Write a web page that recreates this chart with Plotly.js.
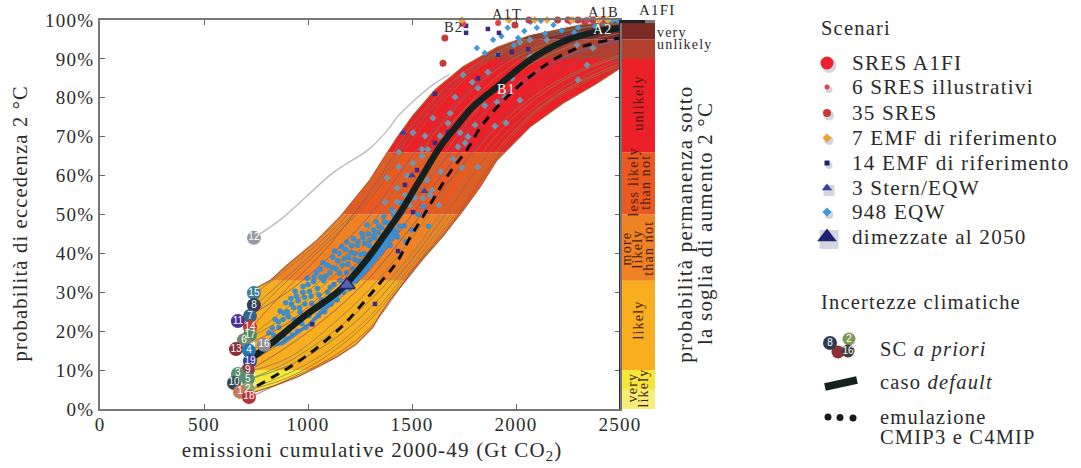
<!DOCTYPE html>
<html><head><meta charset="utf-8">
<script src="https://cdn.plot.ly/plotly-3.0.1.min.js"></script>
<style>html,body{margin:0;padding:0;background:#fff}
#chart text{letter-spacing:1.2px}
#chart .textpoint text{letter-spacing:0}
</style></head>
<body><div id="chart" style="width:1081px;height:468px"></div>
<script>
// ---------- data (x: Gt CO2, y: %) ----------
const upperX=[745,817,900,1043,1154,1298,1394,1428,1505,1610,1745,1909,2067,2308,2500];
const upperY=[31,33,37,43.4,49.4,58.9,67,69.8,75.5,82,88,93,96,98.7,99.8];
const lowerX=[745,850,947,1040,1139,1230,1312,1346,1394,1476,1553,1650,1745,1827,1909,2067,2226,2388,2500];
const lowerY=[4.4,6.2,8.2,10.6,13.4,16.6,21,24.2,28,33.5,38.6,44.5,51,57,64,72.5,78.6,83.7,87.6];

const gridX=[900,1100,1300,1500,1700,1900,2100,2300,2500];
const curveLabels=['15','8','7','11','14','17','6','13','4','16','19','9','3','5','10','2','1','18'];
const labelX=[740,740,721,663,721,721,692,654,716,788,721,711,663,711,644,711,673,716];
const labelY=[29.8,26.7,23.9,22.6,21,19,17.7,15.4,15,16.5,12.3,10,9,7.7,6.7,5.1,4.4,3.1];
const labelColors=['#3d7f9b','#313c58','#33648a','#4c2f8e','#c23a30','#4f8a62','#6f8c6c','#8b2e36','#2178b5','#8d8d99','#3a409f','#8e3b49','#5f906b','#5a8b72','#2f4b57','#8ba46c','#c77b5b','#b7333b'];
const curve15=[36,45,57,73,84.5,91.5,95.8,98,99.4];
const curve8=[34,44,55,71,83,91,95.3,97.8,99.2];
const curve7=[33,43,54,69,82,90.5,95,97.6,99];
const curve11=[30,39,50,65,78,88,93.8,96.8,98.6];
const curve14=[31,42,56,72,84,91,95,97,98.4];
const curve17=[26,35,47,63,77,87,93,96,98];
const curve6=[24,33,44,60,74,85,92,95.5,97.6];
const curve13=[22,31,41,56,71,83,90.5,95,97.3];
const curve4=[21,29,39,53,67,79,87,92,95];
const curve16=[21,30,40,54,69,82,89.5,94,96.6];
const curve19=[18,26,36,50,64,77,86,91.5,94.6];
const curve9=[16,24,34,47,60,73,83,89.5,93];
const curve3=[13,21,31,44,59,72,81,87,91];
const curve5=[12,19,28,40,55,70,80,86.5,90.5];
const curve10=[11,17,26,38.5,53,68,78,85,89.6];
const curve2=[9,15,24,37,51,66,77,84,88.8];
const curve1=[8,14,23,36,49.5,65,76.5,83.5,88.2];
const curve18=[7.5,12.8,21,35.5,48.5,64,76,83,88];
const curves=[curve15,curve8,curve7,curve11,curve14,curve17,curve6,curve13,curve4,curve16,curve19,curve9,curve3,curve5,curve10,curve2,curve1,curve18];
const curveColors=['#8a7a50','#7d6a6a','#8a6a40','#7a5a8a','#a05040','#7f7f50','#8a7a50','#8a5050','#6a6a9a','#8a7a70','#6a5a9a','#8a5060','#808050','#7a8a50','#6a7a60','#8a8a40','#a07040','#a05040'];

const cs12X=[740,875,1120,1298,1394,1428,1587,1680];
const cs12Y=[44,49,60.7,67,72.5,75,82.8,86];
const defaultX=[736,832,976,1154,1284,1361,1442,1538,1635,1731,1793,1909,2067,2226,2388,2500];
const defaultY=[13.4,17.2,23.6,30.6,38.5,44.2,50.4,58.9,67.4,73.8,77.7,82.8,89.7,94.4,97,97.9];
const emulX=[755,913,986,1072,1178,1264,1346,1428,1490,1548,1620,1683,1764,1827,1909,2034,2178,2308,2500];
const emulY=[5.9,10.8,13.4,17,22,27.2,32.4,37.8,44,49,55.5,60.9,66.6,72.2,77.6,84,89.7,93,95.4];

const blobX=[830,880,1024,1168,1264,1360,1442,1400,1300,1200,1100,1000,900];
const blobY=[16,16.4,22,29.8,34,40,46,47,41,34,28,22,18.5];
const eqwX=[820,835,850,860,875,880,895,900,910,920,925,935,945,950,960,970,975,985,990,1000,1005,1015,1020,1030,1035,1045,1050,1060,1065,1075,1080,1090,1095,1105,1110,1120,1125,1135,1140,1150,1155,1165,1170,1180,1185,1195,1200,1210,1215,1225,1230,1240,1245,1255,1265,1270,1280,1290,1295,1305,1315,1320,1330,1340,1350,1360,1370,1380,1395,1410,1420,1440,1500,1530,1555,1580,1470,1450];
const eqwY=[17,19,17,21,19,23,18,25,21,27,19,23,29,20,26,22,30,27,21,32,24,29,22,34,26,31,24,36,28,33,25,37,30,35,27,39,32,36,28,40,33,37,30,41,35,39,31,42,36,40,33,43,38,35,44,40,36,45,42,38,46,44,40,47,42,44,48,46,42,50,45,47,46,50,52,47,43,53];
const eqwMoreX=[812,828,842,858,866,884,893,907,918,931,938,953,962,976,983,996,1008,1018,1027,1041,1052,1063,1072,1086,1098,1107,1118,1127,1143,1152,1161,1173,1186,1192,1207,1218,1226,1238,1252,1258,1272,1283,1297,1303,1318,1327,1338,1352,1364,1376,1388,1402,1416,1431,1447,1462];
const eqwMoreY=[19.6,20.8,23.1,22.4,25.2,24.6,27.3,23.7,28.4,26.1,30.3,27.8,24.9,31.5,28.7,33.6,30.2,27.1,32.8,35.1,29.4,33.9,37.6,34.2,36.8,31.3,36.4,40.6,38.1,34.9,41.7,38.6,42.9,37.2,40.3,43.8,38.4,42.1,39.7,45.1,42.6,47.3,43.4,39.6,44.7,48.2,45.3,46.6,49.4,43.7,47.8,51.2,48.6,44.2,50.3,47.1];
const topEqwX=[1812,1890,1850,1930,2010,1960,2040,2100,2070,2140,2180,2220,2260,2300,2340,2380,2420,2460,2120,2200,2280,2360,1990,2440,2490];
const topEqwY=[92.8,94.9,91.5,95.8,95.4,98,97.2,98,99.5,96.5,98.7,97.3,99.5,98,99.6,98.4,99.3,99.8,99.8,100,96.8,100,93.5,97.5,99.9];
const dotsX=[1505,1437,1562,1673,1635,1731,1803,1899,1952,1769,1755,1721,1548,1575,1548,1505,1437,1476,1380,1572,1639,1740,1817,1697,1596,1428,1466,1428,1370,1514,1553,1587,1630,1490,1418,1707,1683,1601,1745,1817,1865,1909,1947,1981,2019,2298,2341,2293,2370,2067,2019,1914,2178,2067,2149,1790,1850];
const dotsY=[71,66,70.2,73.5,70.2,71,73,72.7,73.5,70,68.4,67.4,66.8,66.8,65,63.2,62.2,60,59.4,58.9,61,62,62.2,64.3,56.3,56.8,55,53.2,53.2,54.2,54.2,55,52.4,52.4,50.6,80.2,76,74.8,85.9,82.5,86.6,78.9,80.2,85,79.4,84.6,88.4,93.6,92.8,90.5,94.3,91,93,94.9,94.9,84,78];
const emf14X=[1760,1760,1865,1918,1914,1980,2058,1817,1610,1610,1673,1524,1466,1505,1019,1322,1433];
const emf14Y=[98.5,96.7,97.7,96.7,91,91.8,92.5,85,81,68.4,71.2,61.4,57.6,50.6,21.8,27,40.6];
const sres35X=[1658,1649,1995,2062,2250,2298,2370,2418,2200,2330];
const sres35Y=[95.4,88.9,98.7,100,100,100,100,100,100,99.6];
const sres6X=[1746,1914,2340,2270];
const sres6Y=[99,99.2,100,100];
const emf7X=[1740,1966,2149,2269,2442,2400,2090];
const emf7Y=[100,100,100,100,100,100,100];
const sternX=[1457,1500,1560];
const sternY=[71,60,56];
const halvedX=[1187];
const halvedY=[31.9];
const a1fiX=[2702];
const a1fiY=[100];

const bandEdges=[0,10,33,50,66,90,95,100];
const bandColors=['#f5e63c','#f9ae20','#ef8224','#ea5a20','#ed2028','#b2402c','#7c2a26'];
const yTicks=[0,10,20,30,40,50,60,70,80,90,100];
const xTicks=[0,500,1000,1500,2000,2500];
const scenarioNames=['SRES A1FI','6 SRES illustrativi','35 SRES','7 EMF di riferimento','14 EMF di riferimento','3 Stern/EQW','948 EQW','dimezzate al 2050'];
const scenarioColors=['#ee2030','#e8404a','#c93a3a','#f0a030','#23246e','#3a3f9a','#3a9ad8','#1c2472'];
const scenarioSymbols=['circle','circle','circle','diamond','square','triangle-up','diamond','triangle-up'];
const scenarioSizes=[13,5,8,7,5,9,7,17];
const scenarioRows=[63,87,113,138,163,188,212,237];
const stripText=['very','likely','likely','more','likely','than not','less likely','than not','unlikely'];

// ---------- construction ----------
const W=1081,H=468,L=100,R=620,T=20,B=409;
const FONT='"Liberation Serif",serif', INK='#2b2b2b';
const traces=[];

function clip(poly,yLim,keepAbove){
  const out=[];
  const inside=p=>keepAbove?p[1]>=yLim:p[1]<=yLim;
  for(let i=0;i<poly.length;i++){
    const a=poly[i],b=poly[(i+1)%poly.length];
    if(inside(a))out.push(a);
    if(inside(a)!==inside(b)){
      const t=(yLim-a[1])/(b[1]-a[1]);
      out.push([a[0]+t*(b[0]-a[0]),yLim]);
    }
  }
  return out;
}
const fan=upperX.map((x,i)=>[x,upperY[i]]).concat(lowerX.map((x,i)=>[x,lowerY[i]]).reverse());
bandColors.forEach((c,i)=>{
  const p=clip(clip(fan,bandEdges[i],true),bandEdges[i+1],false);
  if(!p.length)return;
  traces.push({x:p.map(q=>q[0]),y:p.map(q=>q[1]),mode:'lines',fill:'toself',fillcolor:c,line:{width:0},hoverinfo:'skip',showlegend:false});
});
traces.push({x:upperX,y:upperY,mode:'lines',line:{color:'#a5603a',width:1.2},showlegend:false,hoverinfo:'skip'});
traces.push({x:lowerX,y:lowerY,mode:'lines',line:{color:'#a5603a',width:1.2},showlegend:false,hoverinfo:'skip'});

function pts(x,y,color,symbol,size,extra){
  traces.push(Object.assign({x,y,mode:'markers',cliponaxis:false,marker:{color,symbol,size,line:{width:0}},showlegend:false,hoverinfo:'skip'},extra||{}));
}
traces.push({x:blobX,y:blobY,mode:'lines',fill:'toself',fillcolor:'#3a8ed2',line:{width:0},showlegend:false,hoverinfo:'skip'});
pts(eqwX,eqwY,'#3a8ed2','circle',5.5);
pts(eqwMoreX,eqwMoreY,'#3a8ed2','circle',5.5);
curves.forEach((c,i)=>{
  traces.push({x:[labelX[i]+8].concat(gridX),y:[labelY[i]].concat(c),mode:'lines',line:{color:curveColors[i],width:.9,shape:'spline'},opacity:.85,showlegend:false,hoverinfo:'skip'});
});
traces.push({x:cs12X,y:cs12Y,mode:'lines',line:{color:'#bdbdc0',width:1.4,shape:'spline'},showlegend:false,hoverinfo:'skip'});
pts(dotsX,dotsY,'#7394ab','diamond',5.5);
pts(topEqwX,topEqwY,'#3f9ad6','diamond',5);
pts(emf14X,emf14Y,'#3a2a80','square',4.5);
pts(sres35X,sres35Y,'#c23c3c','circle',7);
pts(sres6X,sres6Y,'#e0404a','circle',6);
pts(emf7X,emf7Y,'#f0a838','diamond',6);
pts(sternX,sternY,'#3a3f9a','triangle-up',7);
traces.push({x:defaultX,y:defaultY,mode:'lines',line:{color:'#14211f',width:6.5,shape:'spline'},showlegend:false,hoverinfo:'skip'});
traces.push({x:emulX,y:emulY,mode:'lines',line:{color:'#0c0c0c',width:3,dash:'9px,7px',shape:'spline'},showlegend:false,hoverinfo:'skip'});
pts(halvedX,halvedY,'#5560b0','triangle-up',14,{marker:{color:'#5560b0',symbol:'triangle-up',size:14,line:{color:'#1c2472',width:1.5}}});
pts(a1fiX,a1fiY,'#ee2030','circle',9);
traces.push({x:[740].concat(labelX),y:[44].concat(labelY),text:['12'].concat(curveLabels),mode:'markers+text',textposition:'middle center',
  textfont:{family:'"Liberation Sans",sans-serif',size:10,color:'#fff'},cliponaxis:false,
  marker:{size:14,color:['#9a9aa6'].concat(labelColors),line:{width:0}},showlegend:false,hoverinfo:'skip'});

function glyph(x,y,color,symbol,size,opacity){
  traces.push({x,y,xaxis:'x2',yaxis:'y2',mode:'markers',marker:{color,symbol,size,opacity:opacity||1,line:{width:0}},showlegend:false,hoverinfo:'skip'});
}
scenarioRows.forEach((r,i)=>{
  glyph([829],[r+2.5],'#6d7896',scenarioSymbols[i]==='triangle-up'?'square':'circle',scenarioSizes[i]+2,.3);
  glyph([827],[r],scenarioColors[i],scenarioSymbols[i],scenarioSizes[i]);
});
glyph([838],[352],'#8e3038','circle',13);
glyph([849],[339],'#7f9a55','circle',13);
glyph([830],[343],'#2f3a50','circle',14);
glyph([848],[351],'#3d3d3d','circle',13);
traces.push({x:[848,849,830],y:[351,339,343],text:['16','2','8'],xaxis:'x2',yaxis:'y2',mode:'text',textposition:'middle center',textfont:{family:'"Liberation Sans",sans-serif',size:10,color:'#fff'},showlegend:false,hoverinfo:'skip'});
traces.push({x:[825,857],y:[387,380],xaxis:'x2',yaxis:'y2',mode:'lines',line:{color:'#14211f',width:7.5},showlegend:false,hoverinfo:'skip'});
glyph([828,840,853],[417,417.5,418],'#1a1a1a','circle',7);

const px=v=>v/W;
const shapes=[];
bandColors.forEach((c,i)=>shapes.push({type:'rect',xref:'paper',yref:'y',x0:px(R),x1:px(655),y0:bandEdges[i],y1:bandEdges[i+1],fillcolor:c,line:{width:0},layer:'below'}));
shapes.push({type:'rect',xref:'paper',yref:'y',x0:px(R),x1:px(655),y0:0,y1:5,fillcolor:'#f7ee78',line:{width:0},layer:'below'});
shapes.push({type:'rect',xref:'paper',yref:'y',x0:px(R),x1:px(645),y0:99.2,y1:100,fillcolor:'#222',line:{width:0}});
shapes.push({type:'rect',xref:'paper',yref:'y',x0:px(645),x1:px(655),y0:99.2,y1:100,fillcolor:'#777',line:{width:0}});
shapes.push({type:'line',xref:'x',yref:'y',x0:2500,x1:2500,y0:0,y1:100,line:{color:'#2e2e2e',width:2}});

const ann=[];
function note(x,y,text,size,opts){
  ann.push(Object.assign({xref:'x2',yref:'y2',x,y,text,showarrow:false,font:{family:FONT,size,color:INK},xanchor:'left',yanchor:'middle',align:'left'},opts||{}));
}
const ROT={textangle:-90,xanchor:'center',align:'center'};
note(819,28,'Scenari',20.5);
scenarioNames.forEach((t,i)=>note(850,scenarioRows[i],t,21.2));
note(819,302,'Incertezze climatiche',20.5);
note(878,349,'SC <i>a priori</i>',20.5);
note(878,382,'caso <i>default</i>',20.5);
note(878,417,'emulazione',20.5);
note(878,437,'CMIP3 e C4MIP',20.5);
note(685,224,'probabilità permanenza sotto',21,ROT);
note(705,224,'la soglia di aumento 2 °C',21,ROT);
note(20,223,'probabilità di eccedenza 2 °C',20.5,ROT);
note(372,451,'emissioni cumulative 2000-49 (Gt CO<sub>2</sub>)',21,{xanchor:'center',align:'center'});
const stripPX=[632,643,638,626,637,648,633,645,638];
const stripPY=[388,388,320,249,249,248,182,182,103];
stripText.forEach((t,i)=>note(stripPX[i],stripPY[i],t,14,Object.assign({},ROT,{font:{family:FONT,size:14,color:'#4a1a12'}})));
note(655,32,'very',14);
note(655,44,'unlikely',14);
note(637,10,'A1FI',15);
note(490,14,'A1T',14.5);
note(586,12,'A1B',14.5);
note(442,27,'B2',14.5);
note(591,29,'A2',14,{font:{family:FONT,size:14,color:'#fff'}});
note(495,89,'B1',14,{font:{family:FONT,size:14,color:'#fff'}});

const layout={
  width:W,height:H,autosize:false,margin:{l:0,r:0,t:0,b:0},paper_bgcolor:'#fff',plot_bgcolor:'rgba(0,0,0,0)',showlegend:false,
  font:{family:FONT,color:INK},
  xaxis:{domain:[L/W,R/W],range:[0,2500],tickvals:xTicks,ticktext:xTicks.map(String),ticks:'inside',ticklen:5,tickcolor:'#666',showline:true,linecolor:'#777',linewidth:2,mirror:'ticks',showgrid:false,zeroline:false,ticklabelstandoff:-3,
    tickfont:{family:FONT,size:19,color:INK}},
  yaxis:{domain:[(H-B)/H,(H-T)/H],range:[0,100],tickvals:yTicks,ticktext:yTicks.map(v=>v+'%'),ticks:'inside',ticklen:5,tickcolor:'#666',showline:true,linecolor:'#777',linewidth:2,mirror:'ticks',showgrid:false,zeroline:false,
    tickfont:{family:FONT,size:19,color:INK}},
  xaxis2:{domain:[0,1],range:[0,W],visible:false,fixedrange:true,anchor:'y2'},
  yaxis2:{domain:[0,1],range:[H,0],visible:false,fixedrange:true,anchor:'x2'},
  shapes,annotations:ann
};
Plotly.newPlot('chart',traces,layout,{displayModeBar:false,responsive:false});
</script></body></html>
